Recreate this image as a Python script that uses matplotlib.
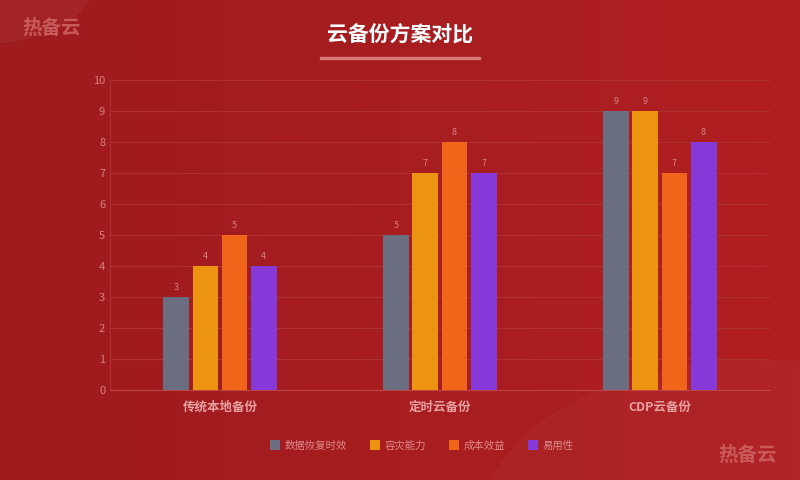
import matplotlib
matplotlib.use("Agg")
import matplotlib.pyplot as plt
import numpy as np
from matplotlib.patches import Circle, Rectangle
from matplotlib.colors import LinearSegmentedColormap

plt.rcParams['font.family'] = ['Noto Sans CJK SC', 'DejaVu Sans']

categories = ['传统本地备份', '定时云备份', 'CDP云备份']
series_names = ['数据恢复时效', '容灾能力', '成本效益', '易用性']
values = [
    [3, 5, 9],
    [4, 7, 9],
    [5, 8, 7],
    [4, 7, 8],
]
colors = ['#6b6e80', '#ec9312', '#f0651a', '#8738d8']
yticks = list(range(0, 11))

fig = plt.figure(figsize=(8, 4.8), dpi=100)
fig.patch.set_facecolor('#a51c1f')
grad = np.linspace(0, 1, 256).reshape(1, -1)
bg = fig.add_axes([0, 0, 1, 1], zorder=-10)
cm = LinearSegmentedColormap.from_list('bg', ['#9e1b1e', '#b01f22'])
bg.imshow(grad, aspect='auto', cmap=cm, extent=[0, 1, 0, 1])
bg.add_patch(Circle((-0.02, 1.05), 0.14, transform=bg.transAxes, color='white', alpha=0.04))
bg.add_patch(Circle((0.95, -0.1), 0.35, transform=bg.transAxes, color='white', alpha=0.025))
bg.set_xlim(0, 1); bg.set_ylim(0, 1); bg.axis('off')

fig.text(0.5, 0.927, '云备份方案对比', ha='center', va='center', color='white', fontsize=15, fontweight='bold')
fig.add_artist(Rectangle((0.4, 0.877), 0.2, 0.005, transform=fig.transFigure, color='#d87a7a'))
fig.text(0.065, 0.942, '热备云', ha='center', va='center', color='#c85a5a', fontsize=14, fontweight='bold')
fig.text(0.935, 0.052, '热备云', ha='center', va='center', color='#c85a5a', fontsize=14, fontweight='bold')

ax = fig.add_axes([0.1375, 0.1875, 0.825, 0.6458])
ax.set_facecolor('none')
x = np.arange(len(categories))
w = 0.118
step = 0.132
for i, (name, vals, c) in enumerate(zip(series_names, values, colors)):
    pos = x + (i - 1.5) * step
    ax.bar(pos, vals, width=w, color=c, label=name, zorder=3)
    for p, v in zip(pos, vals):
        ax.text(p, v + 0.15, str(v), ha='center', va='bottom', fontsize=6.5, color='#d98080')

ax.set_xlim(-0.5, 2.5)
ax.set_ylim(0, 10)
ax.set_yticks(yticks)
ax.grid(axis='y', color='#b03030', linewidth=0.8, zorder=0)
ax.tick_params(axis='y', colors='#d98080', labelsize=8, length=0)
ax.set_xticks(x)
ax.set_xticklabels(categories, fontsize=9, fontweight='bold', color='#e8a0a0')
ax.tick_params(axis='x', length=0, pad=8)
for s in ['top', 'right']:
    ax.spines[s].set_visible(False)
ax.spines['left'].set_color('#b03030')
ax.spines['bottom'].set_color('#c04545')

leg = fig.legend(loc='center', bbox_to_anchor=(0.527, 0.072), ncol=4, frameon=False,
                 fontsize=7.5, handlelength=1.0, handleheight=1.0, columnspacing=2.2,
                 handletextpad=0.4)
for t in leg.get_texts():
    t.set_color('#e08a8a')

fig.savefig('out.png', dpi=100, facecolor=fig.get_facecolor())
